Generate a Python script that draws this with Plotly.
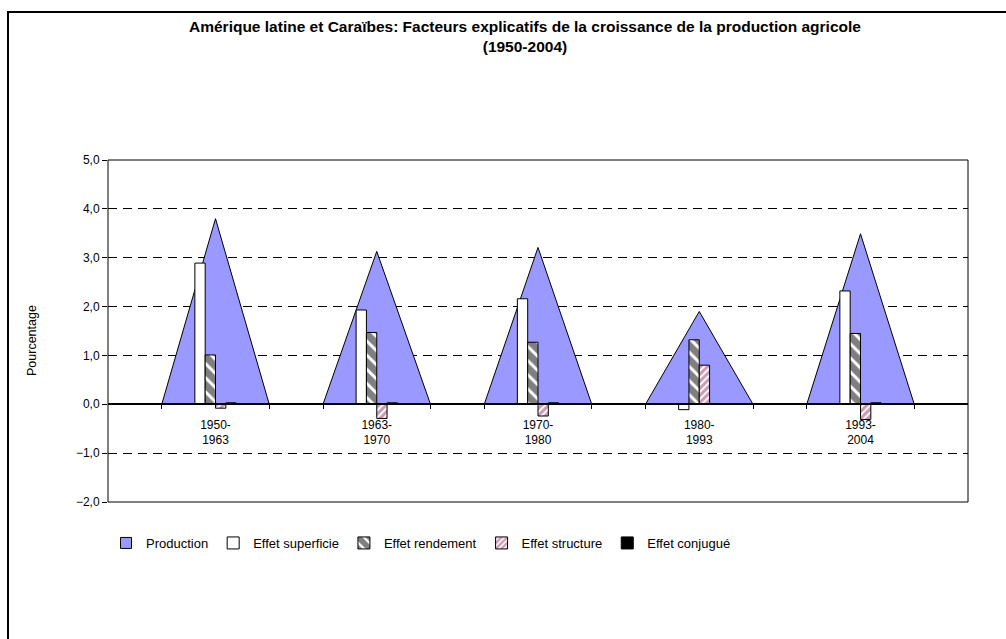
import plotly.graph_objects as go

# Period labels and growth components (%)
periodes = ["1950-1963", "1963-1970", "1970-1980", "1980-1993", "1993-2004"]
production = [3.80, 3.13, 3.21, 1.90, 3.49]
superficie = [2.89, 1.93, 2.16, -0.11, 2.32]
rendement = [1.01, 1.47, 1.27, 1.32, 1.45]
structure = [-0.08, -0.29, -0.24, 0.80, -0.31]
conjugue = [0.03, 0.03, 0.03, 0.00, 0.03]
y_ticks = [-2, -1, 0, 1, 2, 3, 4, 5]

FONT = "Liberation Sans, Arial, sans-serif"
W, H = 1006, 639
ML, MR, MT, MB = 108, 38, 160, 137

# each period sits on 3 slots of a 16-interval category axis
centres = [3 * i + 2 for i in range(len(periodes))]
labels = [p.replace("-", "-<br>") for p in periodes]

# Production drawn as triangles (area chart with zero neighbours)
tri_x, tri_y = [], []
for c, v in zip(centres, production):
    tri_x += [c - 1, c, c + 1, None]
    tri_y += [0, v, 0, None]

fig = go.Figure()

# legend entry for Production
fig.add_trace(go.Scatter(x=[None], y=[None], mode="markers", name="Production",
                         marker=dict(symbol="square", size=11, color="#9999FF",
                                     line=dict(color="black", width=1))))

fig.add_trace(go.Scatter(x=tri_x, y=tri_y, mode="lines", fill="toself",
                         fillcolor="#9999FF", line=dict(color="black", width=1),
                         showlegend=False, hoverinfo="skip"))

# bars live on an overlaid axis pair so they are drawn above the triangles
bar_axes = dict(xaxis="x2", yaxis="y2")
fig.add_trace(go.Bar(x=centres, y=superficie, name="Effet superficie", **bar_axes,
                     marker=dict(color="white", line=dict(color="black", width=1))))
fig.add_trace(go.Bar(x=centres, y=rendement, name="Effet rendement", **bar_axes,
                     marker=dict(color="white", line=dict(color="black", width=1),
                                 pattern=dict(shape="\\", fgcolor="black", bgcolor="white",
                                              size=10, solidity=0.7))))
fig.add_trace(go.Bar(x=centres, y=structure, name="Effet structure", **bar_axes,
                     marker=dict(color="white", line=dict(color="black", width=1),
                                 pattern=dict(shape="/", fgcolor="#993366", bgcolor="white",
                                              size=5, solidity=0.6))))
fig.add_trace(go.Bar(x=centres, y=conjugue, name="Effet conjugué", **bar_axes,
                     marker=dict(color="black", line=dict(color="black", width=1))))

def px_x(p):
    return (p - ML) / (W - ML - MR)

def px_y(p):
    return (H - MB - p) / (H - MT - MB)

fig.update_layout(
    width=W, height=H,
    margin=dict(l=ML, r=MR, t=MT, b=MB),
    paper_bgcolor="white", plot_bgcolor="white",
    font=dict(family=FONT, size=12, color="black"),
    separators=", ",
    barmode="group", bargap=0.744,
    showlegend=True,
    legend=dict(orientation="h", x=px_x(106), xanchor="left", y=px_y(543), yanchor="middle",
                font=dict(family=FONT, size=13, color="black"), bgcolor="rgba(0,0,0,0)"),
    xaxis=dict(range=[0, 16], anchor="free", position=2 / 7,
               tickmode="array", tickvals=centres, ticktext=labels, ticks="",
               showline=True, linecolor="black", linewidth=2, showgrid=False, zeroline=False,
               ticklabelstandoff=9,
               minor=dict(tickmode="array", tickvals=[c + d for c in centres for d in (-1, 1)],
                          ticks="outside", ticklen=4, tickcolor="black", tickwidth=1,
                          showgrid=False),
               tickfont=dict(family=FONT, size=12, color="black")),
    yaxis=dict(range=[-2, 5], tickmode="array", tickvals=y_ticks, tickformat=".1f",
               ticks="outside", ticklen=5, tickcolor="black",
               showgrid=True, gridcolor="black", gridwidth=1, griddash="9px,6px",
               zeroline=False, showline=False,
               tickfont=dict(family=FONT, size=12, color="black")),
    xaxis2=dict(range=[0, 16], overlaying="x", anchor="y2", visible=False),
    yaxis2=dict(range=[-2, 5], overlaying="y", anchor="x2", visible=False),
    annotations=[
        dict(text="<b>Amérique latine et Caraïbes: Facteurs explicatifs de la croissance de la production agricole<br>(1950-2004)</b>",
             xref="paper", yref="paper", x=px_x(525), y=px_y(16), xanchor="center",
             yanchor="top", showarrow=False, align="center",
             font=dict(family=FONT, size=15.5, color="black")),
        dict(text="Pourcentage", textangle=-90, xref="paper", yref="paper",
             x=px_x(23), y=px_y(341), showarrow=False,
             font=dict(family=FONT, size=12.5, color="black")),
    ],
    shapes=[
        dict(type="rect", xref="x domain", yref="y domain", x0=0, x1=1, y0=0, y1=1,
             line=dict(color="black", width=1), fillcolor="rgba(0,0,0,0)"),
        dict(type="rect", xref="paper", yref="paper", x0=px_x(8), x1=px_x(1015),
             y0=px_y(650), y1=px_y(12), line=dict(color="black", width=2),
             fillcolor="rgba(0,0,0,0)"),
    ],
)

fig.write_html("out.html", config={"displayModeBar": False},
               post_script="document.body.style.margin='0px';")
